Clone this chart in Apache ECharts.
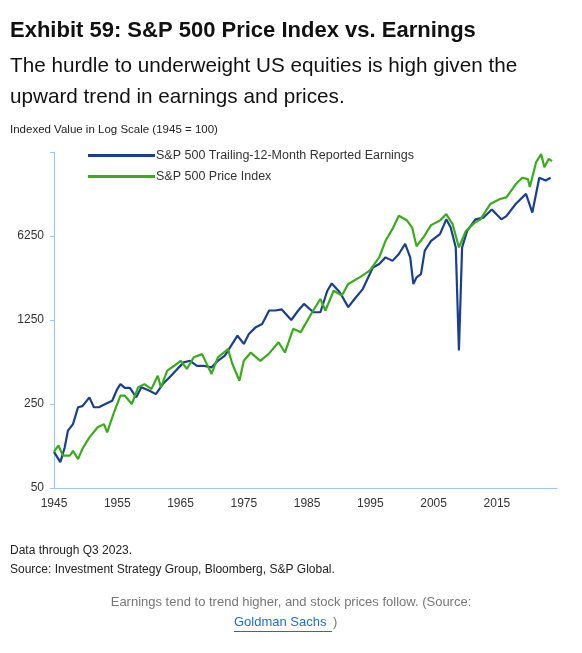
<!DOCTYPE html>
<html><head><meta charset="utf-8">
<script src="https://cdn.jsdelivr.net/npm/echarts@6/dist/echarts.min.js"></script>
<style>html,body{margin:0;padding:0;background:#fff;}#c{width:582px;height:653px;}</style>
</head><body><div id="c"></div>
<script>
var yLabels=['50','250','1250','6250'];
var xLabels=['1945','1955','1965','1975','1985','1995','2005','2015'];
var earnYears=[1945,1946,1946.7,1947.2,1948,1948.8,1949.5,1950.6,1951.3,1952.1,1953.1,1954.2,1955,1955.5,1956.2,1957,1958,1958.8,1960.1,1961.1,1962.2,1963.5,1964.5,1965.5,1966.5,1967.6,1968.6,1969.9,1970.9,1972,1973,1974,1975,1975.8,1976.9,1977.9,1979,1980,1981,1982.5,1983.6,1984.5,1986,1987.1,1988.2,1988.9,1990.2,1991.5,1992.5,1993.8,1995.4,1996.4,1997.4,1998.5,1999.5,2000.5,2001.3,2001.8,2002.3,2003,2003.6,2004.6,2006,2007,2007.7,2008.5,2009,2009.5,2010.3,2011.6,2012.9,2014.2,2015.7,2016.5,2018,2019.6,2020.6,2021.7,2022.7,2023.5];
var earnings=[100,82,109,150,170,235,240,284,235,235,250,266,333,366,340,340,284,344,322,302,366,430,490,555,572,520,520,505,572,632,765,925,790,955,1090,1160,1500,1500,1530,1250,1500,1700,1450,1450,2190,2520,2120,1600,1870,2260,3420,3650,4150,3880,4430,5370,4150,2490,2830,3010,4720,5700,6480,8600,7350,5020,697,5020,6880,8600,8900,10400,8600,9150,11600,14000,9800,19100,18100,19100];
var priceYears=[1945,1945.7,1946.4,1947.5,1948,1948.8,1949.5,1950.6,1951.9,1952.9,1953.4,1954.4,1955.5,1956.2,1957.3,1958.3,1959.3,1960.4,1961.4,1961.9,1962.9,1964,1965,1966,1967.1,1968.4,1969.9,1970.9,1972.5,1973.2,1974.3,1975,1976.1,1977.6,1978.9,1980.5,1981.5,1982.8,1984,1985.8,1987.1,1987.9,1989.2,1990.5,1991.5,1993.3,1994.9,1996.4,1997.4,1998.5,1999.5,2000.8,2001.6,2002.3,2003.4,2004.6,2006,2007,2008,2009,2010.1,2011.4,2012.4,2014,2015.5,2016.5,2018,2019,2019.9,2020.2,2021.2,2022,2022.5,2023.2,2023.7];
var price=[100,113,93,93,102,87,106,132,160,170,145,207,293,293,250,344,366,333,430,344,474,520,572,490,612,650,445,612,715,538,390,572,670,572,650,816,670,1055,990,1450,1870,1500,2190,2000,2490,2830,3220,4150,5700,7160,9200,8400,7350,5140,6100,7700,8400,9500,7850,5020,6880,8000,8600,11600,12700,13100,16900,19100,18600,16000,25700,30000,23300,27400,26200];

function lg(v){return Math.log(v/50)/Math.log(5);}
function pts(xs,vs){return xs.map(function(x,i){return [x,lg(vs[i])];});}
var ff='"Liberation Sans", Arial, sans-serif';
var chart=echarts.init(document.getElementById('c'));
chart.setOption({
 animation:false,
 grid:{left:54,right:25,top:152,bottom:165},
 xAxis:{type:'value',min:1945,max:2024.5,interval:10,splitLine:{show:false},
   axisLine:{lineStyle:{color:'#9cc8ee',width:1.2}},axisTick:{show:false},
   axisLabel:{color:'#333',fontSize:12,fontFamily:ff,margin:10,
     formatter:function(v){var s=String(Math.round(v));return xLabels.indexOf(s)>=0?s:'';}}},
 yAxis:{type:'value',min:0,max:4,interval:1,splitLine:{show:false},
   axisLine:{show:true,lineStyle:{color:'#9cc8ee',width:1.2}},
   axisTick:{show:true,length:4,lineStyle:{color:'#9cc8ee'}},
   axisLabel:{color:'#333',fontSize:12,fontFamily:ff,margin:10,
     formatter:function(v){return yLabels[Math.round(v)]||'';}}},
 legend:{left:83,top:144,orient:'vertical',itemWidth:67,itemHeight:3,itemGap:8,icon:'rect',
   textStyle:{color:'#333',fontSize:12.5,fontFamily:ff,padding:[0,0,0,-4]},
   data:['S&P 500 Trailing-12-Month Reported Earnings','S&P 500 Price Index']},
 series:[
  {name:'S&P 500 Trailing-12-Month Reported Earnings',type:'line',showSymbol:false,data:pts(earnYears,earnings),
   lineStyle:{color:'#1a3f8c',width:2.2},itemStyle:{color:'#1a3f8c'},z:2},
  {name:'S&P 500 Price Index',type:'line',showSymbol:false,data:pts(priceYears,price),
   lineStyle:{color:'#3aac1c',width:2.2},itemStyle:{color:'#3aac1c'},z:3}
 ],
 graphic:[
  {type:'text',left:10,top:20,style:{text:'Exhibit 59: S&P 500 Price Index vs. Earnings',fill:'#111',font:'bold 22px '+ff}},
  {type:'text',left:10,top:51,style:{text:'The hurdle to underweight US equities is high given the\nupward trend in earnings and prices.',fill:'#111',font:'20.7px '+ff,lineHeight:31}},
  {type:'text',left:10,top:124,style:{text:'Indexed Value in Log Scale (1945 = 100)',fill:'#222',font:'11.5px '+ff}},
  {type:'text',left:10,top:541,style:{text:'Data through Q3 2023.\nSource: Investment Strategy Group, Bloomberg, S&P Global.',fill:'#222',font:'12px '+ff,lineHeight:19}},
  {type:'text',left:'center',top:596,style:{text:'Earnings tend to trend higher, and stock prices follow. (Source:',fill:'#777',font:'13px '+ff}},
  {type:'text',left:234,top:616,style:{text:'Goldman Sachs',fill:'#1a6fc9',font:'13px '+ff}},
  {type:'rect',left:234,top:631,shape:{width:98,height:1},style:{fill:'#1a6fc9'}},
  {type:'text',left:333,top:616,style:{text:')',fill:'#777',font:'13px '+ff}}
 ]
});
</script></body></html>
